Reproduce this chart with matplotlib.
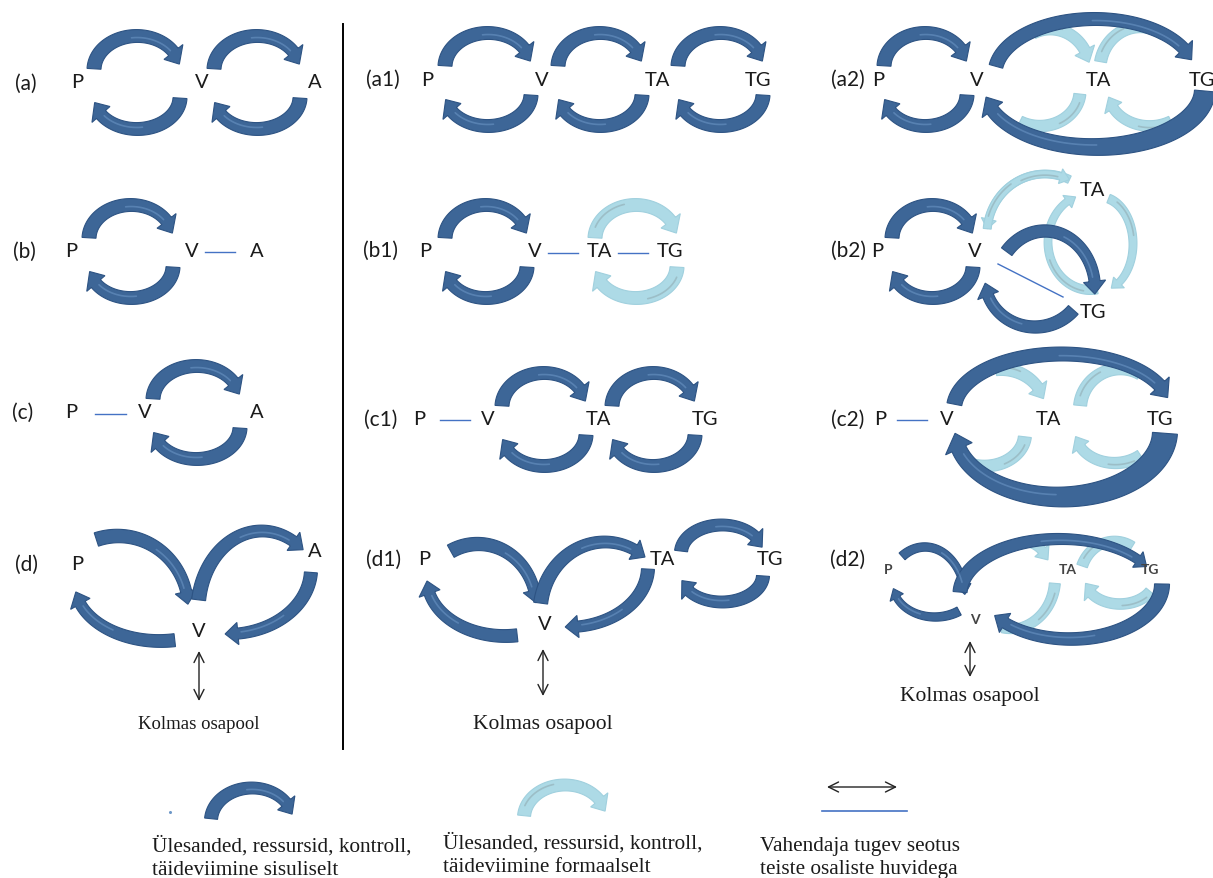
import numpy as np
import matplotlib
matplotlib.use("Agg")
import matplotlib.pyplot as plt
from matplotlib.patches import Polygon

# -------------------------------------------------------------------
# TEXT CONTENT
# -------------------------------------------------------------------
panel_names = ["(a)", "(b)", "(c)", "(d)",
               "(a1)", "(b1)", "(c1)", "(d1)",
               "(a2)", "(b2)", "(c2)", "(d2)"]
third_party = "Kolmas osapool"
legend_texts = [
    "Ülesanded, ressursid, kontroll,\ntäideviimine sisuliselt",
    "Ülesanded, ressursid, kontroll,\ntäideviimine formaalselt",
    "Vahendaja tugev seotus\nteiste osaliste huvidega",
]

# -------------------------------------------------------------------
# LAYOUT (pixel coordinates, y grows downwards)
# -------------------------------------------------------------------
panel_label_xy = [(26, 84), (24, 252), (23, 413), (26, 565),
                  (383, 80), (381, 251), (381, 420), (384, 560),
                  (848, 80), (848, 251), (848, 420), (848, 560)]

# node labels: (text, x, y, size)
nodes = [
    ("P", 77, 83, 14.5), ("V", 202, 83, 14.5), ("A", 315, 83, 14.5),
    ("P", 71, 252, 14.5), ("V", 192, 252, 14.5), ("A", 257, 252, 14.5),
    ("P", 71, 413, 14.5), ("V", 145, 413, 14.5), ("A", 257, 413, 14.5),
    ("P", 77, 565, 14.5), ("A", 315, 552, 14.5), ("V", 199, 632, 14.5),
    ("P", 427, 80, 14.5), ("V", 542, 80, 14.5), ("TA", 657, 80, 14.5), ("TG", 758, 80, 14.5),
    ("P", 425, 252, 14.5), ("V", 535, 252, 14.5), ("TA", 599, 252, 14.5), ("TG", 670, 252, 14.5),
    ("P", 419, 420, 14.5), ("V", 488, 420, 14.5), ("TA", 598, 420, 14.5), ("TG", 705, 420, 14.5),
    ("P", 424, 560, 14.5), ("TA", 662, 560, 14.5), ("TG", 770, 560, 14.5), ("V", 545, 625, 14.5),
    ("P", 878, 80, 14.5), ("V", 977, 80, 14.5), ("TA", 1098, 80, 14.5), ("TG", 1202, 80, 14.5),
    ("P", 877, 252, 14.5), ("V", 975, 252, 14.5), ("TA", 1092, 190, 14.5), ("TG", 1093, 313, 14.5),
    ("P", 880, 420, 14.5), ("V", 947, 420, 14.5), ("TA", 1048, 420, 14.5), ("TG", 1160, 420, 14.5),
    ("P", 888, 570, 10), ("TA", 1068, 570, 10), ("TG", 1150, 570, 10), ("V", 975, 620, 10),
]

# thin "strong ties" lines: (x0, y0, x1, y1)
tie_lines = [(205, 253, 235, 253), (95, 415, 126, 415),
             (548, 254, 578, 254), (618, 254, 648, 254),
             (440, 421, 470, 421),
             (998, 265, 1063, 298), (897, 421, 927, 421)]

# third party links: (x, y_top, y_bottom, text_y, size)
third_links = [(199, 652, 702, 725, 13.5), (543, 650, 697, 725, 15.5), (970, 642, 678, 697, 15.5)]

# pairs of loop arrows: (left band x, right band x, row y, kind)
loops = [(94, 180, 83, "d"), (214, 300, 83, "d"),
         (89, 173, 252, "d"), (153, 240, 413, "d"),
         (445, 531, 80, "d"), (558, 642, 80, "d"), (678, 763, 80, "d"),
         (445, 527, 252, "d"), (595, 677, 252, "l"),
         (502, 586, 420, "d"), (612, 695, 420, "d"),
         (884, 967, 80, "d"), (892, 973, 252, "d")]

# free elliptic arrows: (kind, cx, cy, rx, ry, t0, t1, w0, w1, head)
arcs = [
    # (d)
    ("d", 118, 609, 70, 72, 108, 3, 14, 11, True),
    ("d", 262, 612, 64, 80, 172, 50, 14, 11, True),
    ("d", 228, 570, 83, 65, -3, -92, 13, 11, True),
    ("d", 160, 585, 85, 57, -80, -172, 13, 11, True),
    # (d1)
    ("d", 478, 607, 58, 62, 118, 3, 14, 11, True),
    ("d", 605, 614, 65, 71, 172, 52, 14, 11, True),
    ("d", 568, 568, 80, 60, -2, -92, 13, 11, True),
    ("d", 505, 580, 78, 57, -81, -178, 13, 11, True),
    ("d", 722, 554, 41, 28, 176, 12, 13, 11, True),
    ("d", 722, 576, 41, 27, -2, -168, 13, 11, True),
    # (a2) light, then dark outer ring
    ("l", 1050, 72, 40, 42, 115, 12, 12, 11, True),
    ("l", 1140, 70, 40, 42, 170, 55, 12, 11, False),
    ("l", 1040, 92, 40, 35, -5, -120, 12, 11, False),
    ("l", 1150, 92, 42, 35, -60, -170, 11, 10, True),
    ("d", 1095, 75, 100, 55, 172, 15, 14, 12, True),
    ("d", 1095, 90, 110, 58, -2, -172, 21, 13, True),
    # (b2)
    ("l", 1045, 235, 58, 60, 65, 175, 8, 7, True),
    ("l", 1045, 235, 58, 60, 175, 65, 8, 7, True),
    ("l", 1090, 243, 42, 48, -80, -250, 9, 7, True),
    ("l", 1100, 245, 33, 47, 75, -70, 9, 7, True),
    ("d", 1045, 290, 50, 58, 140, -5, 13, 11, True),
    ("d", 1035, 280, 50, 48, -40, -175, 13, 11, True),
    # (c2)
    ("l", 1000, 410, 45, 40, 95, 15, 13, 11, True),
    ("l", 1120, 410, 40, 40, 175, 60, 13, 11, False),
    ("l", 985, 435, 40, 32, -5, -120, 13, 11, False),
    ("l", 1115, 432, 40, 32, -50, -170, 12, 10, True),
    ("d", 1062, 410, 108, 55, 175, 12, 15, 13, True),
    ("d", 1060, 432, 105, 66, -2, -178, 25, 15, True),
    # (d2)
    ("l", 1025, 585, 28, 42, 100, 35, 10, 9, True),
    ("l", 1115, 580, 35, 38, 160, 60, 11, 9, False),
    ("l", 1010, 580, 45, 50, -5, -100, 11, 9, False),
    ("l", 1120, 580, 35, 25, -30, -170, 11, 10, True),
    ("d", 925, 600, 40, 52, 125, 5, 9, 7, True),
    ("d", 935, 585, 42, 33, -55, -172, 9, 7, True),
    ("d", 1060, 595, 100, 55, 178, 30, 14, 9, True),
    ("d", 1070, 585, 92, 55, 0, -145, 15, 11, True),
    # legend
    ("d", 252, 822, 41, 33, 176, 12, 13, 11, True),
    ("l", 565, 819, 41, 33, 176, 12, 13, 11, True),
]

COLORS = {"d": ("#3D6697", "#2D5383", "#6E98C8"),
          "l": ("#ADDAE6", "#A0D0DE", "#8EA7AE")}


def ellipse_pts(cx, cy, rx, ry, t0, t1, n=120):
    t = np.radians(np.linspace(t0, t1, n))
    return np.column_stack([cx + rx * np.cos(t), cy - ry * np.sin(t)])


def draw_band(ax, pts, w0, w1, kind, head=True, z=2):
    fc, ec, sc = COLORS[kind]
    seg = np.hypot(*np.diff(pts, axis=0).T)
    s = np.concatenate([[0], np.cumsum(seg)])
    L = s[-1]
    hl = 0.8 * w1 + 4
    hw = 1.75 * w1 + 3
    sb = L - hl if head else L
    keep = s < sb
    xb = np.interp(sb, s, pts[:, 0])
    yb = np.interp(sb, s, pts[:, 1])
    body = np.vstack([pts[keep], [xb, yb]])
    sbody = np.concatenate([s[keep], [sb]])
    d = np.gradient(body, axis=0)
    nrm = np.column_stack([-d[:, 1], d[:, 0]])
    nrm /= np.hypot(nrm[:, 0], nrm[:, 1])[:, None]
    w = w0 + (w1 - w0) * sbody / sb
    left = body + nrm * w[:, None] / 2
    right = body - nrm * w[:, None] / 2
    if head:
        nb = nrm[-1]
        poly = np.vstack([left, body[-1] + nb * hw / 2, pts[-1],
                          body[-1] - nb * hw / 2, right[::-1]])
    else:
        poly = np.vstack([left, right[::-1]])
    ax.add_patch(Polygon(poly, closed=True, fc=fc, ec=ec, lw=0.8, zorder=z))
    # soft streak typical of the shaded office arrows
    m = len(body)
    if kind == "d":
        i0, i1 = int(m * 0.55), int(m * 0.97)
        off = 0.12
    else:
        i0, i1 = int(m * 0.12), int(m * 0.5)
        off = -0.15
    st = body[i0:i1] + nrm[i0:i1] * (w[i0:i1, None] * off)
    ax.plot(st[:, 0], st[:, 1], color=sc, lw=1.2, alpha=0.55, zorder=z + 0.1,
            solid_capstyle="round")


fig = plt.figure(figsize=(12.13, 8.79), dpi=100)
ax = fig.add_axes([0, 0, 1, 1])
ax.set_xlim(0, 1213)
ax.set_ylim(879, 0)
ax.axis("off")

sans = ["Lato", "DejaVu Sans"]
serif = ["Liberation Serif", "DejaVu Serif"]
txt_color = "#1b1b1b"

# loops: top arrow goes left -> right, bottom arrow comes back
for xl, xr, yc, kind in loops:
    cx, rx = (xl + xr) / 2, (xr - xl) / 2
    draw_band(ax, ellipse_pts(cx, yc - 12, rx, 34, 178, 10), 14, 12, kind)
    draw_band(ax, ellipse_pts(cx, yc + 15, rx, 32, -2, -170), 14, 12, kind)

for kind, cx, cy, rx, ry, t0, t1, w0, w1, head in arcs:
    draw_band(ax, ellipse_pts(cx, cy, rx, ry, t0, t1), w0, w1, kind,
              head=head, z=2 + 0.2 * (kind == "d"))

# separator between the first and second column
ax.plot([343, 343], [25, 750], color="black", lw=1.4, zorder=1)

# strong ties
for x0, y0, x1, y1 in tie_lines:
    ax.plot([x0, x1], [y0, y1], color="#4472C4", lw=1.0, zorder=3)

# third party links
for x, ya, yb, ty, fs in third_links:
    ax.annotate("", xy=(x, ya), xytext=(x, yb),
                arrowprops=dict(arrowstyle="<->", color="#222222", lw=1.0,
                                mutation_scale=18, shrinkA=0, shrinkB=0))
    ax.text(x, ty, third_party, ha="center", va="center", fontsize=fs,
            family=serif, color=txt_color)

for name, (x, y) in zip(panel_names, panel_label_xy):
    ax.text(x, y, name, ha="center", va="center", fontsize=15,
            family=sans, color=txt_color)

for label, x, y, fs in nodes:
    ax.text(x, y, label, ha="center", va="center", fontsize=fs,
            family=sans, color=txt_color if fs > 11 else "#444444",
            fontweight="normal" if fs > 11 else "bold", zorder=5)

# legend
ax.plot([170], [813], marker="o", ms=1.2, color="#6E98C8")
ax.annotate("", xy=(827, 788), xytext=(897, 788),
            arrowprops=dict(arrowstyle="<->", color="#222222", lw=1.0,
                            mutation_scale=18, shrinkA=0, shrinkB=0))
ax.plot([822, 907], [812, 812], color="#4472C4", lw=1.2)
for (x, y), t in zip([(152, 858), (443, 855), (760, 858)], legend_texts):
    ax.text(x, y, t, ha="left", va="center", fontsize=15.3, family=serif,
            color=txt_color, linespacing=1.25)

fig.savefig("out.png", dpi=100)
